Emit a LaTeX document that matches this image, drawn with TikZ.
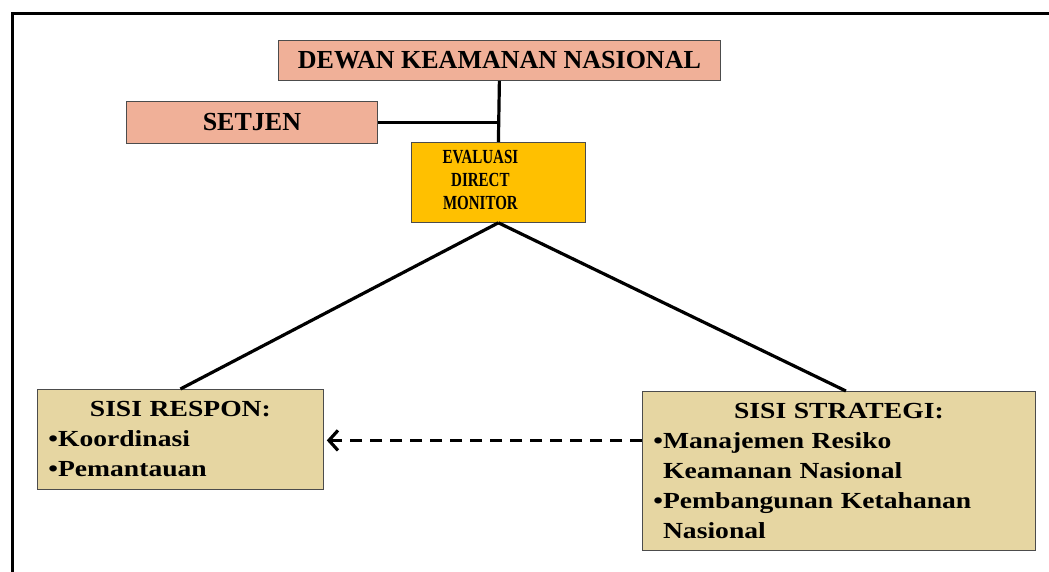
\documentclass[tikz,border=0pt]{standalone}
\usepackage{fontspec}
\setmainfont{Liberation Serif}
\newfontfamily\listfont{Liberation Serif}[FakeStretch=1.2, WordSpace=1.4]
\usepackage{graphicx}
\usetikzlibrary{arrows.meta}
\definecolor{salmon}{RGB}{240,176,152}
\definecolor{gold}{RGB}{255,192,0}
\definecolor{tan}{RGB}{230,214,162}
\tikzset{
  box/.style={draw=black!70, line width=0.8pt, inner sep=0pt, anchor=north west, font=\bfseries},
  listbox/.style={box, fill=tan, align=left, font=\listfont\bfseries\fontsize{23}{30}\selectfont},
  link/.style={line width=3.2pt},
}
\begin{document}
\begin{tikzpicture}[x=1pt,y=-1pt]
\useasboundingbox (0,0) rectangle (1049,572);
\draw [line width=3pt] (12,572) -- (12,14) -- (1049,14);
\node (dewan) [box, fill=salmon, minimum width=442pt, minimum height=40pt] at (278,40)
  {\fontsize{26}{30}\selectfont DEWAN KEAMANAN NASIONAL};
\node (setjen) [box, fill=salmon, minimum width=251pt, minimum height=42pt] at (126,101)
  {\fontsize{26}{30}\selectfont SETJEN};
\node (eval) [box, fill=gold, minimum width=174pt, minimum height=80pt] at (411,142) {
\scalebox{0.75}[1]{\fontsize{20}{23}\selectfont
\begin{tabular}{@{}c@{}}
EVALUASI \\
DIRECT \\
MONITOR \\
\end{tabular}}\hspace*{36pt}
};
\node (respon) [listbox, minimum width=286pt, minimum height=100pt,
  text width=264pt] at (37,389) {
\hfill SISI RESPON:\hfill\null\\
\textbullet Koordinasi\\
\textbullet Pemantauan};
\node (strategi) [listbox, minimum width=393pt, minimum height=159pt,
  text width=371pt] at (642,391) {
\hfill SISI STRATEGI:\hfill\null\\
\textbullet Manajemen Resiko\\
\phantom{\textbullet}Keamanan Nasional\\
\textbullet Pembangunan Ketahanan\\
\phantom{\textbullet}Nasional};
% connectors
\draw [link] (dewan.south) -- (eval.north);
\draw [link] (setjen.east) -- (setjen.east -| dewan.south);
\draw [link] (eval.south) -- (respon.north);
\draw [link] (eval.south) -- ([xshift=7pt]strategi.north);
\draw [link, dash pattern=on 12pt off 8pt, -{Straight Barb[length=9pt,width=20pt]}]
  ([yshift=-1pt]strategi.west |- respon.east) -- ([xshift=3pt,yshift=-1pt]respon.east);
\end{tikzpicture}
\end{document}
